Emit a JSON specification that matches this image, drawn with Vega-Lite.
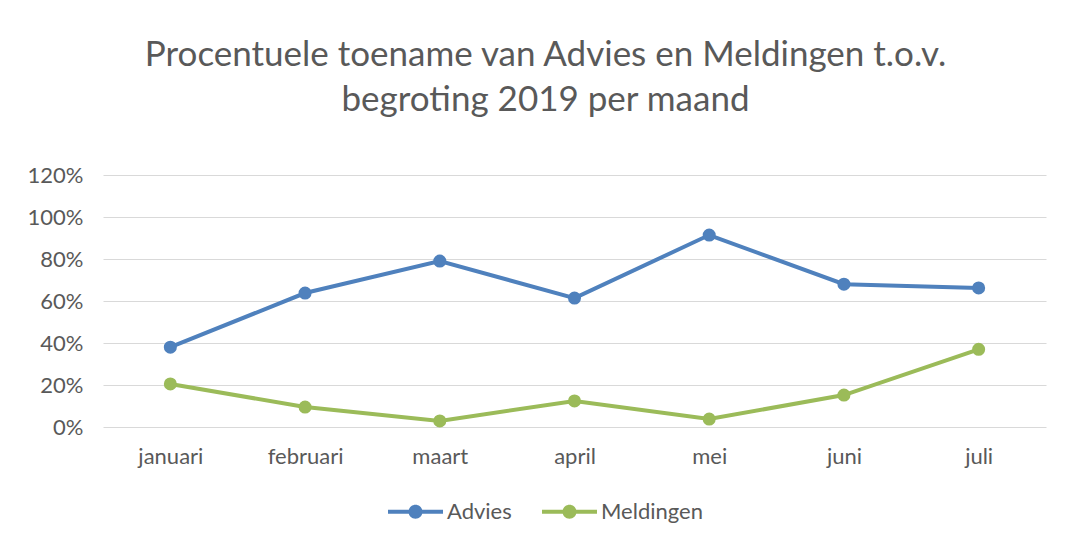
{
  "$schema": "https://vega.github.io/schema/vega-lite/v6.json",
  "width": 943,
  "height": 252,
  "autosize": {"type": "none"},
  "padding": {"left": 103, "top": 175, "right": 23, "bottom": 116},
  "background": "white",
  "title": {
    "text": ["Procentuele toename van Advies en Meldingen t.o.v.", "begroting 2019 per maand"],
    "anchor": "middle",
    "dx": -29,
    "offset": 46,
    "font": "Lato",
    "fontSize": 35,
    "fontWeight": "normal",
    "color": "#595959",
    "lineHeight": 45
  },
  "data": {
    "values": [
      {"maand": "januari", "serie": "Advies", "waarde": 0.38},
      {"maand": "februari", "serie": "Advies", "waarde": 0.638},
      {"maand": "maart", "serie": "Advies", "waarde": 0.79},
      {"maand": "april", "serie": "Advies", "waarde": 0.614},
      {"maand": "mei", "serie": "Advies", "waarde": 0.914},
      {"maand": "juni", "serie": "Advies", "waarde": 0.68},
      {"maand": "juli", "serie": "Advies", "waarde": 0.662},
      {"maand": "januari", "serie": "Meldingen", "waarde": 0.205},
      {"maand": "februari", "serie": "Meldingen", "waarde": 0.095},
      {"maand": "maart", "serie": "Meldingen", "waarde": 0.029},
      {"maand": "april", "serie": "Meldingen", "waarde": 0.124},
      {"maand": "mei", "serie": "Meldingen", "waarde": 0.038},
      {"maand": "juni", "serie": "Meldingen", "waarde": 0.152},
      {"maand": "juli", "serie": "Meldingen", "waarde": 0.37}
    ]
  },
  "mark": {"type": "line", "strokeWidth": 4, "point": {"size": 170, "filled": true, "opacity": 1}},
  "encoding": {
    "x": {
      "field": "maand",
      "type": "nominal",
      "sort": ["januari", "februari", "maart", "april", "mei", "juni", "juli"],
      "scale": {"paddingOuter": 0.5},
      "axis": {
        "title": null,
        "labelAngle": 0,
        "labelFont": "Lato",
        "labelFontSize": 22,
        "labelColor": "#595959",
        "labelPadding": 19,
        "ticks": false,
        "domain": false,
        "grid": false
      }
    },
    "y": {
      "field": "waarde",
      "type": "quantitative",
      "scale": {"domain": [0, 1.2], "nice": false},
      "axis": {
        "title": null,
        "format": ".0%",
        "values": [0, 0.2, 0.4, 0.6, 0.8, 1.0, 1.2],
        "labelFont": "Lato",
        "labelFontSize": 22,
        "labelColor": "#595959",
        "labelPadding": 20,
        "ticks": false,
        "domain": false,
        "grid": true,
        "gridColor": "#D9D9D9",
        "gridWidth": 1
      }
    },
    "color": {
      "field": "serie",
      "type": "nominal",
      "scale": {"domain": ["Advies", "Meldingen"], "range": ["#4F81BD", "#9BBB59"]},
      "legend": {
        "title": null,
        "orient": "none",
        "direction": "horizontal",
        "legendX": 285,
        "legendY": 309,
        "symbolType": "M-1,-0.073 H1 V0.073 H-1 Z M0.255,0 A0.255,0.255 0 1,1 -0.255,0 A0.255,0.255 0 1,1 0.255,0 Z",
        "symbolSize": 3025,
        "symbolStrokeWidth": 0,
        "labelFont": "Lato",
        "labelFontSize": 22,
        "labelColor": "#595959",
        "labelOffset": 4,
        "columnPadding": 30
      }
    }
  },
  "config": {"view": {"stroke": null}}
}
